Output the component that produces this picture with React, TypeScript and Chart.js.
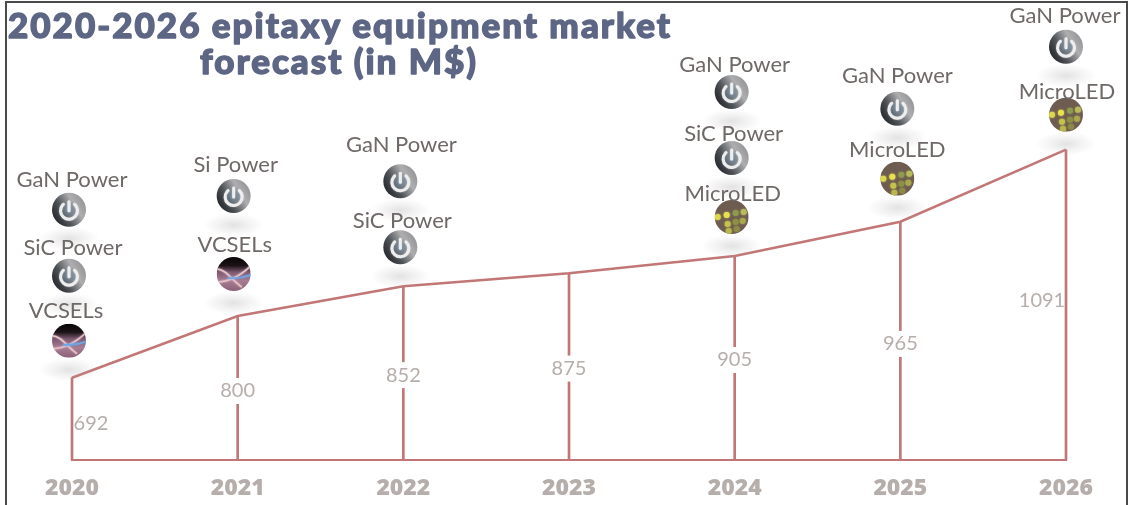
import React, { useEffect, useRef } from "react";
import { Chart, registerables } from "chart.js";

Chart.register(...registerables);

const years = ["2020", "2021", "2022", "2023", "2024", "2025", "2026"];
const marketValues = [692, 800, 852, 875, 905, 965, 1091];
const titleLines = ["2020-2026 epitaxy equipment market", "forecast (in M$)"];
const technologies = [
  ["GaN Power", "SiC Power", "VCSELs"],
  ["Si Power", "VCSELs"],
  ["GaN Power", "SiC Power"],
  [],
  ["GaN Power", "SiC Power", "MicroLED"],
  ["GaN Power", "MicroLED"],
  ["GaN Power", "MicroLED"],
];

// Layout only: distance above each point of [label centre, icon centre] per technology
const stackOffsets = [
  [[198, 168], [130, 102], [67, 37]],
  [[151, 120], [71, 42]],
  [[141, 105], [65, 39]],
  [],
  [[191, 164], [122, 98], [62, 39]],
  [[146, 113], [72, 43]],
  [[134, 103], [58, 35]],
];
// Layout only: horizontal shift from the point of each technology label
const labelDx = [
  [0, 1, -6],
  [-2, -3],
  [-2, -1],
  [],
  [0, -1, -2],
  [-3, -3],
  [-1, 1],
];
const iconDx = [-3, -4, -3, 0, -3, -3, 0];
const valueLabelDx = [19, 0, 0, 0, 0, 0, -24];
const valueLabelDy = [5, 3, 2, 2, 2, 3, -4];

const LINE = "#c27676";
const SANS = "Lato, 'Open Sans', sans-serif";
const HEAVY = "'Open Sans', sans-serif";
const Y_MIN = 548;
const Y_MAX = 1353;

function shadow(ctx: CanvasRenderingContext2D, x: number, y: number) {
  ctx.save();
  ctx.translate(x, y + 29);
  ctx.scale(1, 0.4);
  const g = ctx.createRadialGradient(0, 0, 1, 0, 0, 30);
  g.addColorStop(0, "rgba(170,170,170,0.32)");
  g.addColorStop(0.5, "rgba(170,170,170,0.15)");
  g.addColorStop(1, "rgba(170,170,170,0)");
  ctx.fillStyle = g;
  ctx.beginPath();
  ctx.arc(0, 0, 30, 0, Math.PI * 2);
  ctx.fill();
  ctx.restore();
}

function powerIcon(ctx: CanvasRenderingContext2D, x: number, y: number) {
  const r = 17;
  ctx.save();
  const g = ctx.createLinearGradient(x - r * 0.8, y + r * 0.7, x + r * 0.9, y - r * 0.3);
  g.addColorStop(0, "#26282c");
  g.addColorStop(0.35, "#4e5358");
  g.addColorStop(0.75, "#aeaeb0");
  g.addColorStop(1, "#9a9a9c");
  ctx.fillStyle = g;
  ctx.beginPath();
  ctx.arc(x, y, r, 0, Math.PI * 2);
  ctx.fill();
  const inner = ctx.createRadialGradient(x, y, 1, x, y, 10);
  inner.addColorStop(0, "#76889a");
  inner.addColorStop(1, "rgba(118,136,154,0)");
  ctx.fillStyle = inner;
  ctx.beginPath();
  ctx.arc(x, y, 10, 0, Math.PI * 2);
  ctx.fill();
  ctx.strokeStyle = "#eeeeee";
  ctx.lineWidth = 3;
  ctx.lineCap = "round";
  ctx.shadowColor = "rgba(255,255,255,0.6)";
  ctx.shadowBlur = 1.5;
  ctx.beginPath();
  ctx.arc(x, y + 1, 8.5, -Math.PI * 0.27, Math.PI * 1.27);
  ctx.stroke();
  ctx.beginPath();
  ctx.moveTo(x, y - 8);
  ctx.lineTo(x, y + 1);
  ctx.stroke();
  ctx.restore();
}

function vcselIcon(ctx: CanvasRenderingContext2D, x: number, y: number) {
  const r = 17;
  ctx.save();
  ctx.beginPath();
  ctx.arc(x, y, r, 0, Math.PI * 2);
  ctx.clip();
  const g = ctx.createLinearGradient(x, y - r, x, y + r);
  g.addColorStop(0, "#070506");
  g.addColorStop(0.25, "#1c1216");
  g.addColorStop(0.45, "#7c5a72");
  g.addColorStop(0.7, "#a87c92");
  g.addColorStop(1, "#8a6278");
  ctx.fillStyle = g;
  ctx.fillRect(x - r, y - r, 2 * r, 2 * r);
  ctx.shadowBlur = 2;
  ctx.lineWidth = 1.6;
  ctx.strokeStyle = "#e9c4c8";
  ctx.shadowColor = "#e9c4c8";
  ctx.beginPath();
  ctx.moveTo(x - 17, y - 5);
  ctx.bezierCurveTo(x - 8, y - 5, x - 2, y + 6, x + 8, y + 13);
  ctx.stroke();
  ctx.beginPath();
  ctx.moveTo(x - 17, y + 8);
  ctx.quadraticCurveTo(x, y + 8, x + 17, y - 8);
  ctx.stroke();
  ctx.strokeStyle = "#6fa6e8";
  ctx.shadowColor = "#6fa6e8";
  ctx.beginPath();
  ctx.moveTo(x - 6, y + 4);
  ctx.quadraticCurveTo(x + 6, y + 5, x + 17, y + 1);
  ctx.stroke();
  ctx.restore();
}

function microLedIcon(ctx: CanvasRenderingContext2D, x: number, y: number) {
  const r = 17;
  ctx.save();
  ctx.beginPath();
  ctx.arc(x, y, r, 0, Math.PI * 2);
  ctx.clip();
  ctx.fillStyle = "#6e5c50";
  ctx.fillRect(x - r, y - r, 2 * r, 2 * r);
  const dots: [number, number, string][] = [
    [-14, 0, "#dcd84a"],
    [-5, -2, "#e8e24e"],
    [4, -4, "#8f9a50"],
    [12, -5, "#b8bc58"],
    [-4, 7, "#c4c24c"],
    [4, 5, "#8f9048"],
    [11, 4, "#a8a84c"],
    [-3, 14, "#b8b84a"],
    [5, 12, "#8c8a46"],
  ];
  dots.forEach(([dx, dy, c]) => {
    ctx.fillStyle = c;
    ctx.shadowColor = c;
    ctx.shadowBlur = 2;
    ctx.beginPath();
    ctx.arc(x + dx, y + dy, 3, 0, Math.PI * 2);
    ctx.fill();
  });
  ctx.restore();
}

const annotationsPlugin = {
  id: "annotations",
  afterDatasetsDraw(chart: any) {
    const { ctx, scales } = chart;
    const { x: xs, y: ys } = scales;
    ctx.save();

    // outer frame of the figure
    ctx.strokeStyle = "#4a4a4a";
    ctx.lineWidth = 2;
    ctx.beginPath();
    ctx.moveTo(6, chart.height);
    ctx.lineTo(6, 2);
    ctx.lineTo(1127, 2);
    ctx.lineTo(1127, chart.height);
    ctx.stroke();

    // title
    ctx.fillStyle = "#5d6684";
    ctx.strokeStyle = "#5d6684";
    ctx.lineWidth = 1.4;
    ctx.lineJoin = "round";
    ctx.textAlign = "center";
    ctx.textBaseline = "middle";
    ctx.font = `900 35px ${SANS}`;
    (ctx as any).letterSpacing = "2px";
    ctx.fillText(titleLines[0], 340, 27);
    ctx.strokeText(titleLines[0], 340, 27);
    ctx.fillText(titleLines[1], 339, 63);
    ctx.strokeText(titleLines[1], 339, 63);
    (ctx as any).letterSpacing = "0px";

    marketValues.forEach((v, i) => {
      const px = xs.getPixelForValue(i);
      const py = ys.getPixelForValue(v);
      const base = ys.getPixelForValue(Y_MIN);

      // value label, with a white gap in the drop line
      const lx = px + valueLabelDx[i];
      const ly = (py + base) / 2 + valueLabelDy[i];
      ctx.font = `400 20px ${SANS}`;
      const w = ctx.measureText(String(v)).width;
      if (valueLabelDx[i] === 0) {
        ctx.fillStyle = "#ffffff";
        ctx.fillRect(lx - w / 2 - 1, ly - 13, w + 2, 26);
      }
      ctx.fillStyle = "#b5aeaa";
      ctx.textAlign = "center";
      ctx.textBaseline = "middle";
      ctx.fillText(String(v), lx, ly);

      // technology stack
      technologies[i].forEach((tech, k) => {
        const iconUp = stackOffsets[i][k][1];
        const ix = px + iconDx[i];
        shadow(ctx, ix, py - iconUp);
        if (tech === "VCSELs") vcselIcon(ctx, ix, py - iconUp);
        else if (tech === "MicroLED") microLedIcon(ctx, ix, py - iconUp);
        else powerIcon(ctx, ix, py - iconUp);
      });
      technologies[i].forEach((tech, k) => {
        const labelUp = stackOffsets[i][k][0];
        ctx.font = `400 22px ${SANS}`;
        ctx.fillStyle = "#6e6866";
        ctx.textAlign = "center";
        ctx.textBaseline = "middle";
        ctx.fillText(tech, px + labelDx[i][k], py - labelUp);
      });
    });
    ctx.restore();
  },
};

export default function App() {
  const ref = useRef<HTMLCanvasElement>(null);
  useEffect(() => {
    document.body.style.margin = "0";
    document.body.style.background = "#ffffff";
    const chart = new Chart(ref.current!, {
      type: "bar",
      data: {
        labels: years,
        datasets: [
          {
            type: "line",
            data: marketValues,
            borderColor: LINE,
            borderWidth: 2.5,
            pointRadius: 0,
            tension: 0,
            fill: false,
            clip: false,
          } as any,
          {
            type: "bar",
            data: marketValues,
            base: Y_MIN,
            backgroundColor: LINE,
            barThickness: 2,
            clip: false,
          } as any,
        ],
      },
      options: {
        animation: false,
        responsive: false,
        devicePixelRatio: 1,
        layout: { padding: { left: 72, right: 67, top: 0, bottom: 0 } },
        plugins: { legend: { display: false }, tooltip: { enabled: false }, title: { display: false } },
        scales: {
          x: {
            type: "category",
            offset: false,
            grid: { display: false, drawTicks: false },
            border: { display: true, color: LINE, width: 2 },
            ticks: {
              color: "#b5aeaa",
              padding: 15,
              maxRotation: 0,
              autoSkip: false,
              font: { family: HEAVY, size: 23, weight: "800" },
            },
            afterFit(scale: any) {
              scale.height = 45;
            },
          },
          y: { display: false, min: Y_MIN, max: Y_MAX },
        },
      },
      plugins: [annotationsPlugin],
    } as any);
    return () => chart.destroy();
  }, []);
  return <canvas ref={ref} width={1133} height={505} style={{ display: "block" }} />;
}
